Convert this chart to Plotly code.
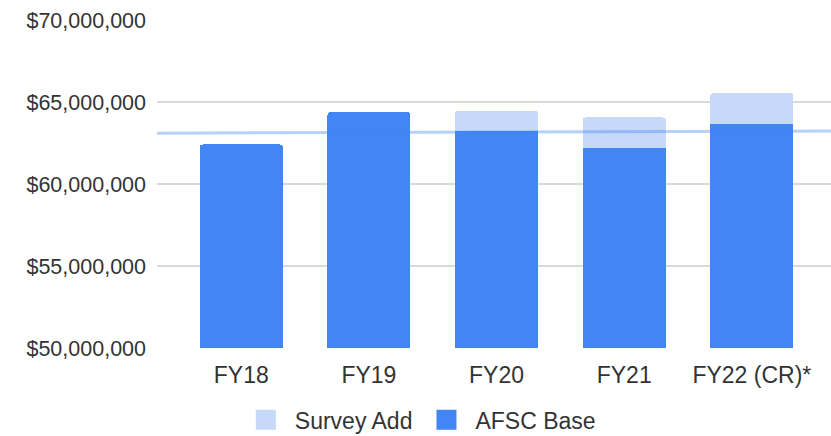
import numpy as np
import plotly.graph_objects as go

# Budget by fiscal year (USD)
categories = ["FY18", "FY19", "FY20", "FY21", "FY22 (CR)*"]
afsc_base = [62_410_000, 64_370_000, 63_240_000, 62_170_000, 63_630_000]
survey_add = [0, 0, 1_210_000, 1_890_000, 1_900_000]

y_tick_vals = [50_000_000, 55_000_000, 60_000_000, 65_000_000, 70_000_000]
y_tick_text = ["$50,000,000", "$55,000,000", "$60,000,000", "$65,000,000", "$70,000,000"]

BASE_BLUE = "#4285f4"
LIGHT_BLUE = "#c6d9f8"
FONT = "Liberation Sans, Arial, sans-serif"
TEXT = "#333333"

# Linear trendline fitted to the base series, spanning the whole plot width
x_idx = np.arange(len(categories))
slope, intercept = np.polyfit(x_idx, np.array(afsc_base, dtype=float), 1)
x_range = [-0.66, 4.62]
trend_x = np.array(x_range)
trend_y = slope * trend_x + intercept

fig = go.Figure()
fig.add_trace(go.Bar(
    x=x_idx, y=afsc_base, name="AFSC Base",
    marker=dict(color=BASE_BLUE, line=dict(width=0)),
    width=0.65, showlegend=False,
))
fig.add_trace(go.Bar(
    x=x_idx, y=survey_add, name="Survey Add",
    marker=dict(color=LIGHT_BLUE, line=dict(width=0)),
    width=0.65, showlegend=False,
))
fig.add_trace(go.Scatter(
    x=trend_x, y=trend_y, mode="lines",
    line=dict(color="rgba(66,133,244,0.38)", width=3),
    showlegend=False, hoverinfo="skip",
))

# Legend entries with larger square swatches
for name, color in [("Survey Add", LIGHT_BLUE), ("AFSC Base", BASE_BLUE)]:
    fig.add_trace(go.Scatter(
        x=[None], y=[None], mode="markers", name=name,
        marker=dict(symbol="square", size=16, color=color,
                    line=dict(color=color, width=4)),
    ))

fig.update_layout(
    width=831, height=436,
    margin=dict(l=157, r=0, t=20, b=88),
    barmode="stack",
    barcornerradius=3,
    plot_bgcolor="white", paper_bgcolor="white",
    font=dict(family=FONT, size=21, color=TEXT),
    showlegend=True,
    legend=dict(
        orientation="h", traceorder="normal",
        xref="container", yref="container",
        x=0.504, y=0.037, xanchor="center", yanchor="middle",
        font=dict(size=23, color=TEXT),
        itemwidth=48, itemsizing="trace",
    ),
    xaxis=dict(
        range=x_range,
        tickmode="array", tickvals=list(x_idx), ticktext=categories,
        showgrid=False, zeroline=False, showline=False,
        ticks="", ticklabelstandoff=11,
        tickfont=dict(size=23, color=TEXT),
    ),
    yaxis=dict(
        range=[50_000_000, 70_000_000],
        tickmode="array", tickvals=y_tick_vals, ticktext=y_tick_text,
        showgrid=True, gridcolor="#d9d9d9", gridwidth=1.5,
        zeroline=False, showline=False,
        ticks="", ticklabelstandoff=10,
        tickfont=dict(size=21.5, color=TEXT),
    ),
)

fig.write_html("out.html")
